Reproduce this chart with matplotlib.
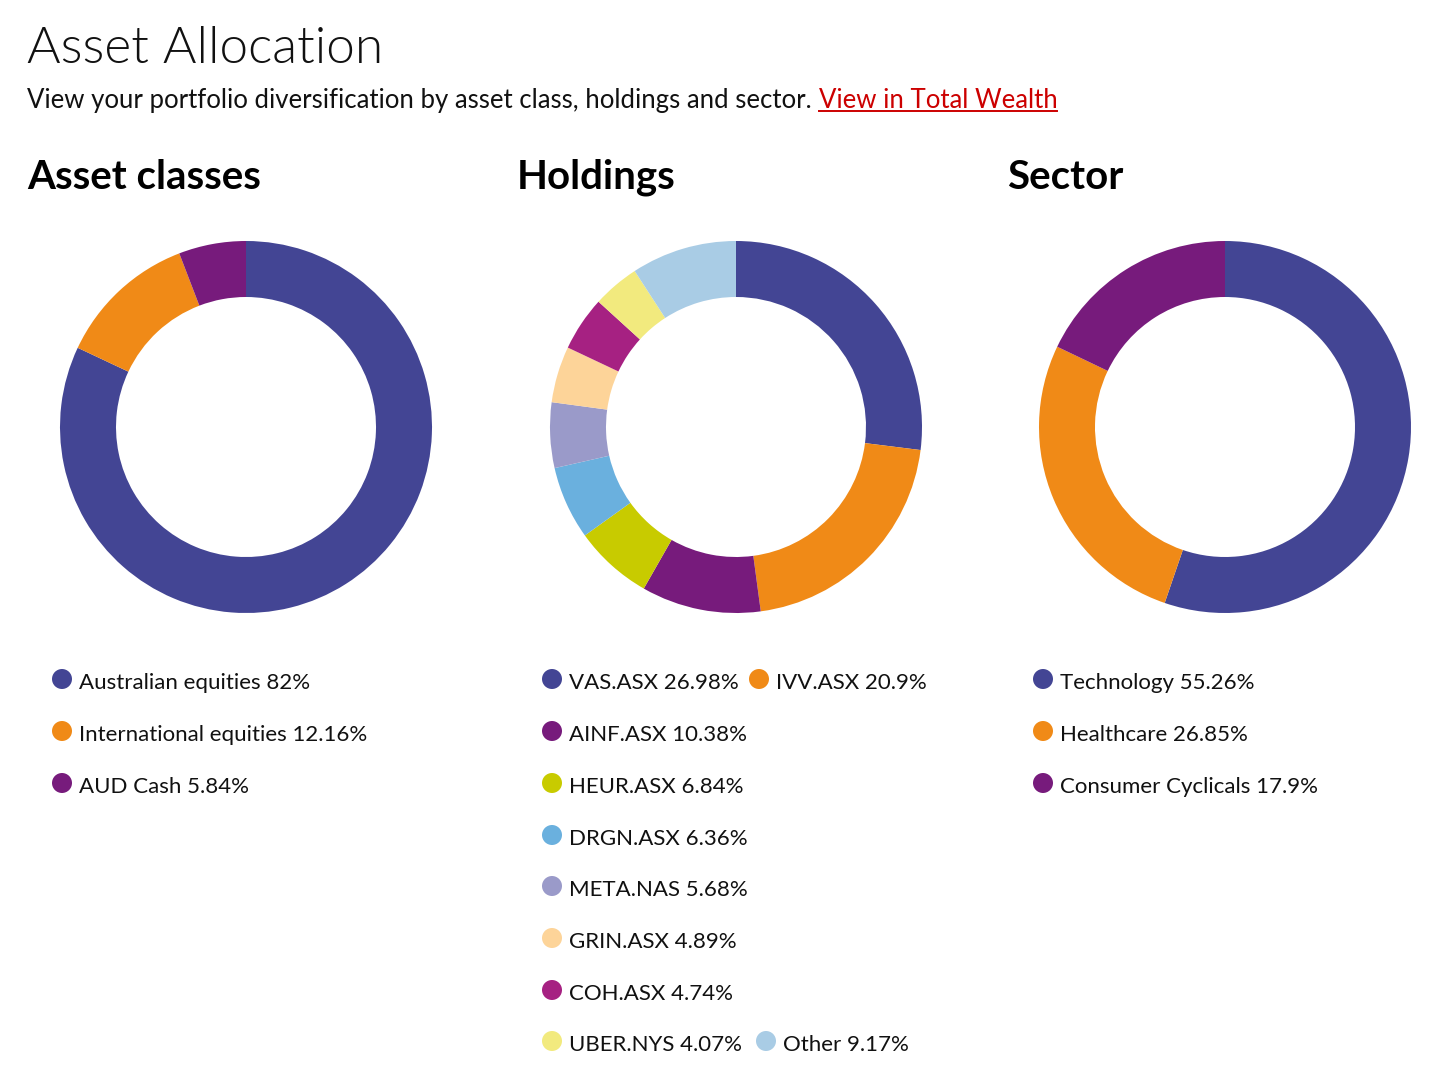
import matplotlib
matplotlib.use('Agg')
import matplotlib.pyplot as plt
from matplotlib.patches import Circle

plt.rcParams['font.family'] = ['Lato', 'DejaVu Sans']

W, H = 1456, 1075

# data
asset_labels = ['Australian equities', 'International equities', 'AUD Cash']
asset_values = [82, 12.16, 5.84]

holding_labels = ['VAS.ASX', 'IVV.ASX', 'AINF.ASX', 'HEUR.ASX', 'DRGN.ASX',
                  'META.NAS', 'GRIN.ASX', 'COH.ASX', 'UBER.NYS', 'Other']
holding_values = [26.98, 20.9, 10.38, 6.84, 6.36, 5.68, 4.89, 4.74, 4.07, 9.17]

sector_labels = ['Technology', 'Healthcare', 'Consumer Cyclicals']
sector_values = [55.26, 26.85, 17.9]

palette = ['#434594', '#F08A17', '#771B7C', '#C8CB00', '#6AB0DE',
           '#9A9AC9', '#FDD499', '#A62182', '#F2EA7E', '#A9CCE5']


def fmt(v):
    return ('%g' % v) + '%'


fig = plt.figure(figsize=(W / 100, H / 100), dpi=100)
ax = fig.add_axes([0, 0, 1, 1])
ax.set_xlim(0, W)
ax.set_ylim(0, H)
ax.set_aspect('equal')
ax.axis('off')


def Y(y):
    return H - y


# header texts
ax.text(27, Y(63), 'Asset Allocation', fontsize=37, fontweight=300,
        color='#111111', va='baseline')
sub = ax.text(27, Y(108), 'View your portfolio diversification by asset class, holdings and sector.',
              fontsize=18.5, color='#111111', va='baseline')
fig.canvas.draw()
rend = fig.canvas.get_renderer()
bb = sub.get_window_extent(rend)
link = ax.text(bb.x1 + 7, Y(108), 'View in Total Wealth', fontsize=18.5,
               color='#CC0000', va='baseline')
lb = link.get_window_extent(rend)
ax.plot([lb.x0, lb.x1], [Y(111), Y(111)], color='#CC0000', lw=1.4)

titles = ['Asset classes', 'Holdings', 'Sector']
title_x = [27, 517, 1007]
for t, x in zip(titles, title_x):
    ax.text(x, Y(189), t, fontsize=29, fontweight='bold', color='#000000',
            va='baseline')

# donuts
centers = [246, 736, 1225]
series = [asset_values, holding_values, sector_values]
for cx, vals in zip(centers, series):
    ax.pie(vals, colors=palette[:len(vals)], startangle=90, counterclock=False,
           center=(cx, Y(427)), radius=186,
           wedgeprops=dict(width=56, edgecolor='none'))
ax.set_xlim(0, W)
ax.set_ylim(0, H)


# legends
def legend_item(x, y, color, text):
    ax.add_patch(Circle((x, Y(y)), 10, color=color, lw=0))
    ax.text(x + 17, Y(y + 10), text, fontsize=16, color='#111111', va='baseline')


row_y = [679, 731, 783, 835, 886, 938, 990, 1041]

for i, (lab, v) in enumerate(zip(asset_labels, asset_values)):
    legend_item(62, row_y[i], palette[i], lab + ' ' + fmt(v))

for i, (lab, v) in enumerate(zip(sector_labels, sector_values)):
    legend_item(1043, row_y[i], palette[i], lab + ' ' + fmt(v))

# holdings legend: wrapping layout
h_pos = [(552, 0), (759, 0), (552, 1), (552, 2), (552, 3), (552, 4),
         (552, 5), (552, 6), (552, 7), (766, 7)]
for i, (lab, v) in enumerate(zip(holding_labels, holding_values)):
    x, r = h_pos[i]
    legend_item(x, row_y[r], palette[i], lab + ' ' + fmt(v))

fig.savefig('out.png', dpi=100, facecolor='white')
